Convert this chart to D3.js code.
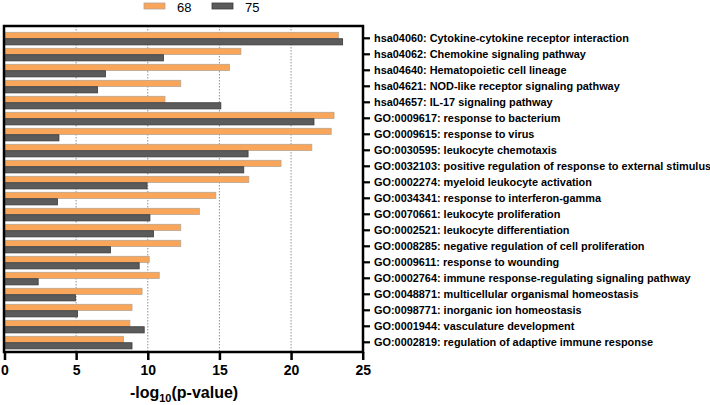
<!DOCTYPE html>
<html><head><meta charset="utf-8">
<script src="https://cdn.jsdelivr.net/npm/d3@7"></script>
<style>body{margin:0;background:#fff}svg{display:block}</style>
</head><body>
<svg id="c" width="710" height="405"></svg>
<script>
const categories = [
"hsa04060: Cytokine-cytokine receptor interaction",
"hsa04062: Chemokine signaling pathway",
"hsa04640: Hematopoietic cell lineage",
"hsa04621: NOD-like receptor signaling pathway",
"hsa04657: IL-17 signaling pathway",
"GO:0009617: response to bacterium",
"GO:0009615: response to virus",
"GO:0030595: leukocyte chemotaxis",
"GO:0032103: positive regulation of response to external stimulus",
"GO:0002274: myeloid leukocyte activation",
"GO:0034341: response to interferon-gamma",
"GO:0070661: leukocyte proliferation",
"GO:0002521: leukocyte differentiation",
"GO:0008285: negative regulation of cell proliferation",
"GO:0009611: response to wounding",
"GO:0002764: immune response-regulating signaling pathway",
"GO:0048871: multicellular organismal homeostasis",
"GO:0098771: inorganic ion homeostasis",
"GO:0001944: vasculature development",
"GO:0002819: regulation of adaptive immune response"
];
const seriesNames = ["68", "75"];
const values68 = [23.3, 16.5, 15.7, 12.3, 11.2, 23.0, 22.8, 21.45, 19.3, 17.05, 14.75, 13.6, 12.3, 12.3, 10.1, 10.8, 9.6, 8.9, 8.75, 8.3];
const values75 = [23.6, 11.1, 7.05, 6.5, 15.1, 21.6, 3.8, 17.0, 16.7, 9.95, 3.7, 10.15, 10.4, 7.4, 9.4, 2.35, 4.95, 5.1, 9.75, 8.9];
const xTicks = [0, 5, 10, 15, 20, 25];

const svg = d3.select("#c");
const colors = {"68": "#F9A65B", "75": "#5B5B5B"};
const strokes = {"68": "#B9A48E", "75": "#3A3A3A"};
const FONT = "Liberation Sans, Arial, sans-serif";

const x = d3.scaleLinear().domain([0, 25]).range([4.5, 362.7]);
const y = d3.scaleBand().domain(categories).range([30.3, 350.3]);
const ySub = d3.scaleBand().domain(seriesNames).range([2, 14.6]).paddingInner(0.04);

const data = categories.map((c, i) => ({cat: c, vals: [{k: "68", v: values68[i]}, {k: "75", v: values75[i]}]}));

// gridlines
svg.append("g").selectAll("line").data([5, 10, 15, 20]).join("line")
  .attr("x1", d => x(d)).attr("x2", d => x(d))
  .attr("y1", 26).attr("y2", 352)
  .attr("stroke", "#777").attr("stroke-width", 0.8).attr("stroke-dasharray", "1.5,1.5");

// bars
const g = svg.append("g");
g.selectAll("g.row").data(data).join("g").attr("class", "row")
  .attr("transform", d => `translate(0,${y(d.cat)})`)
  .selectAll("rect").data(d => d.vals).join("rect")
  .attr("x", x(0))
  .attr("y", d => ySub(d.k))
  .attr("width", d => x(d.v) - x(0))
  .attr("height", ySub.bandwidth())
  .attr("fill", d => colors[d.k])
  .attr("stroke", d => strokes[d.k])
  .attr("stroke-width", 0.8);

// frame
svg.append("rect").attr("x", 4).attr("y", 26).attr("width", 359).attr("height", 326)
  .attr("fill", "none").attr("stroke", "#000").attr("stroke-width", 2.5);

// right y axis
const yAxis = d3.axisRight(y).tickSize(7).tickPadding(4);
const ya = svg.append("g").attr("transform", "translate(363,0)").call(yAxis);
ya.select(".domain").remove();
ya.selectAll(".tick line").attr("stroke", "#000").attr("stroke-width", 2.2);
ya.selectAll(".tick text").attr("font-family", FONT)
  .attr("font-weight", "bold").attr("font-size", "10.9px").attr("fill", "#000");

// bottom x axis
const xAxis = d3.axisBottom(x).tickValues(xTicks).tickSize(8).tickPadding(5).tickFormat(d3.format("d"));
const xa = svg.append("g").attr("transform", "translate(0,352)").call(xAxis);
xa.select(".domain").remove();
xa.selectAll(".tick line").attr("stroke", "#000").attr("stroke-width", 2.5);
xa.selectAll(".tick text").attr("font-family", FONT)
  .attr("font-weight", "bold").attr("font-size", "14px").attr("fill", "#000");

// x title
const t = svg.append("text").attr("x", 184).attr("y", 398).attr("text-anchor", "middle")
  .attr("font-family", FONT).attr("font-weight", "bold").attr("font-size", "16px");
t.append("tspan").text("-log");
t.append("tspan").attr("font-size", "11px").attr("dy", 4).text("10");
t.append("tspan").attr("dy", -4).text("(p-value)");

// legend
const lg = svg.append("g");
const legendPos = [{k: "68", sx: 144, tx: 177}, {k: "75", sx: 212, tx: 245}];
legendPos.forEach(p => {
  lg.append("rect").attr("x", p.sx).attr("y", 3).attr("width", 21).attr("height", 6)
    .attr("fill", colors[p.k]).attr("stroke", strokes[p.k]).attr("stroke-width", 0.8);
  lg.append("text").attr("x", p.tx).attr("y", 12).text(p.k)
    .attr("font-family", FONT).attr("font-size", "13px").attr("fill", "#000");
});
</script>
</body></html>
